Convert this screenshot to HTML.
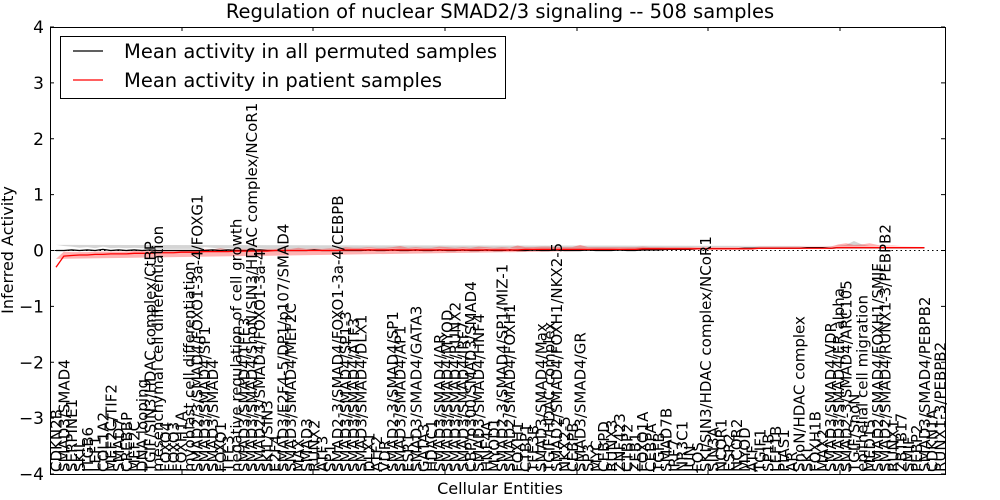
<!DOCTYPE html>
<html><head><meta charset="utf-8">
<style>
html,body{margin:0;padding:0;background:#fff;}
svg{display:block;font-family:"DejaVu Sans","Liberation Sans",sans-serif;}
</style></head>
<body>
<svg id="chart" width="1000" height="500" viewBox="0 0 1000 500">
<rect x="0" y="0" width="1000" height="500" fill="#fff"/>
<text x="500" y="18" text-anchor="middle" font-size="19.5">Regulation of nuclear SMAD2/3 signaling -- 508 samples</text>
<g id="plot"></g>
<text x="500" y="494" text-anchor="middle" font-size="16">Cellular Entities</text>
<text transform="translate(13,250) rotate(-90)" text-anchor="middle" font-size="16">Inferred Activity</text>
<g>
<rect x="60.5" y="36.5" width="445" height="62" fill="#fff" stroke="#000" stroke-width="1"/>
<line x1="73" y1="51" x2="103" y2="51" stroke="#000" stroke-width="1.2"/>
<text x="124" y="58" font-size="19.5">Mean activity in all permuted samples</text>
<line x1="73" y1="80" x2="103" y2="80" stroke="#f00" stroke-width="1.2"/>
<text x="124" y="87" font-size="19.5">Mean activity in patient samples</text>
</g>
</svg>
<script>
const categories = ["CDKN2B","SMAD3/SMAD4","SERPINE1","SKIL","ITGB6","LEF1","COL1A2","MEF2C/TIF2","SMAD7","CREBBP","MEF2C","DNA looping","TGIF/SIN3/HDAC complex/CtBP","mesenchymal cell differentiation","FOXO4","FOXO3","FOXH1A","myoblast cell differentiation","SMAD2/3/SMAD4/FOXO1-3a-4/FOXG1","SMAD3/SMAD4/SP1","SMAD3/SMAD4","FOXO1","TFE3","negative regulation of cell growth","SMAD3/SMAD4/TFE3","SMAD3/SMAD4/SnoN/SIN3/HDAC complex/NCoR1","SMAD2/3/SMAD4/FOXO1-3a-4","SKIL/SIN3","E2F4","SMAD3/E2F4-5/DP1/p107/SMAD4","SMAD3/SMAD4/MEF2C","MAX","SMAD3","RUNX2","ATF3","SP1","SMAD2-3/SMAD4/FOXO1-3a-4/CEBPB","SMAD3/SMAD4/SP1-3","SMAD3/SMAD4/ATF3","SMAD3/SMAD4/DLX1","DLX1","ATF2","VDR","SMAD2-3/SMAD4/SP1","SMAD3/SMAD4/AP1","ESR1","SMAD3/SMAD4/GATA3","GATA3","HDAC1","SMAD3/SMAD4/AR","SMAD3/SMAD4/MYOD","SMAD3/SMAD4/RUNX2","SMAD3/SMAD4/IRF7","CBP/p300/SMAD3/SMAD4","SMAD3/SMAD4/HNF4","HNF4A","MYOD1","SMAD2-3/SMAD4/SP1/MIZ-1","SMAD2/SMAD4/FOXH1","FOXH1","CTBP1","TFE3B","SMAD3/SMAD4/Max","TGIF/HDAC complex","SMAD2/SMAD4/FOXH1/NKX2-5","NKX2-5","CEBPB","SMAD3/SMAD4/GR","SP3","MYC","CEBPD","RUNX3","ZNF423","CTBP2","ZEB1","FOXO1A","CEBPA","TGFB","SMAD7B","IRF7","NR3C1","JUN","FOS","SKI/SIN3/HDAC complex/NCoR1","SIN3A","NCOR1","ESR2","NCOR2","MYOD","ATF","TGIF1","SP1B","LEF1B","PIAS1","AR","SnoN/HDAC complex","SKI","FOXH1B","MAX2","SMAD3/SMAD4/VDR","SMAD3/SMAD4/ER alpha","SMAD2-3/SMAD4/ARC105","TGIF/SnoN","epithelial cell migration","MED15","SMAD2/SMAD4/FOXH1/SMIF","SMAD2/SMAD4/RUNX1-3/PEBPB2","RUNX1","ZBTB17","SMIF","PEBP2","SMAD3/SMAD4/PEBPB2","CDKN1A","RUNX1-3/PEBPB2"];
const permutedMean = [0,0,0.01,0,0.01,0,0.02,0,0.01,0,0.01,0,0.01,0,0,0,0,0,0,0,0.01,0,0.01,0,0,0,0.01,0,0,0,0,0,0,0.01,0,0,0,0,0,0,0.01,0,0,0.01,0,0,0.01,0,0,0.01,0,0,0.01,0,0,0.01,0,0,0.01,0,0,0.01,0,0,0.01,0,0,0,0.01,0,0,0,0.01,0,0,0.01,0.01,0.01,0.02,0.02,0.02,0.02,0.03,0.03,0.03,0.03,0.03,0.03,0.04,0.04,0.04,0.04,0.04,0.04,0.04,0.04,0.05,0.05,0.05,0.04,0.05,0.05,0.05,0.05,0.05,0.05,0.05,0.05,0.05,0.05,0.05,0.05];
const permutedSpread = [0.1,0.08,0.06,0.05,0.05,0.04,0.05,0.04,0.04,0.04,0.04,0.04,0.04,0.03,0.03,0.03,0.03,0.03,0.03,0.06,0.04,0.03,0.03,0.03,0.03,0.03,0.03,0.03,0.03,0.03,0.03,0.03,0.03,0.03,0.03,0.03,0.03,0.03,0.03,0.03,0.04,0.03,0.03,0.03,0.03,0.03,0.03,0.03,0.03,0.03,0.03,0.03,0.03,0.03,0.03,0.03,0.03,0.03,0.03,0.03,0.03,0.03,0.03,0.03,0.03,0.03,0.03,0.03,0.03,0.03,0.03,0.03,0.03,0.03,0.03,0.03,0.03,0.03,0.03,0.03,0.03,0.03,0.03,0.03,0.03,0.03,0.03,0.03,0.03,0.03,0.03,0.03,0.03,0.03,0.03,0.03,0.03,0.03,0.03,0.03,0.04,0.05,0.12,0.06,0.03,0.03,0.03,0.03,0.03,0.03,0.03,0.03];
const patientMean = [-0.3,-0.1,-0.09,-0.08,-0.08,-0.07,-0.07,-0.06,-0.06,-0.06,-0.05,-0.05,-0.05,-0.04,-0.04,-0.04,-0.03,-0.03,-0.03,-0.02,-0.02,-0.02,-0.02,-0.01,-0.01,-0.01,-0.01,-0.01,0,0,0,0,0,0,0,0,0,0.01,0.01,0.01,0.01,0.01,0.01,0.01,0.01,0.01,0.01,0.01,0.01,0.01,0.01,0.01,0.01,0.01,0.01,0.01,0.01,0.01,0.01,0.01,0.02,0.02,0.02,0.02,0.02,0.02,0.02,0.02,0.02,0.02,0.02,0.02,0.02,0.02,0.02,0.03,0.03,0.03,0.03,0.03,0.03,0.03,0.03,0.03,0.03,0.03,0.03,0.03,0.03,0.03,0.04,0.04,0.04,0.04,0.04,0.04,0.04,0.04,0.04,0.04,0.05,0.05,0.05,0.05,0.05,0.05,0.05,0.05,0.05,0.05,0.05,0.05];
const patientSpread = [0.15,0.08,0.06,0.05,0.05,0.05,0.05,0.04,0.04,0.04,0.04,0.04,0.04,0.04,0.04,0.04,0.03,0.03,0.03,0.05,0.04,0.06,0.04,0.04,0.04,0.04,0.04,0.04,0.03,0.04,0.03,0.05,0.03,0.04,0.03,0.04,0.03,0.05,0.04,0.04,0.05,0.04,0.04,0.05,0.07,0.04,0.05,0.04,0.04,0.06,0.05,0.04,0.05,0.04,0.06,0.05,0.04,0.05,0.04,0.08,0.04,0.04,0.05,0.05,0.04,0.04,0.04,0.08,0.04,0.04,0.04,0.04,0.04,0.04,0.04,0.04,0.03,0.03,0.03,0.03,0.03,0.03,0.03,0.03,0.03,0.03,0.03,0.03,0.03,0.03,0.03,0.03,0.03,0.03,0.03,0.03,0.03,0.03,0.03,0.03,0.06,0.08,0.05,0.06,0.08,0.05,0.04,0.04,0.03,0.03,0.03,0.03];
const yTicks = [4,3,2,1,0,-1,-2,-3,-4];

const NS="http://www.w3.org/2000/svg";
const L=50,R=945,T=27,B=474;
const n=categories.length;
const xs=i=>L+6+(i)*(R-L-11)/(n-1);
const ys=v=>T+(4-v)*(B-T)/8;
const plot=document.getElementById('plot');
function mk(tag,attrs,parent){const e=document.createElementNS(NS,tag);for(const k in attrs)e.setAttribute(k,attrs[k]);(parent||plot).appendChild(e);return e;}
function band(mean,spr,fill,op,name){
  let d='';for(let i=0;i<n;i++)d+=(i?'L':'M')+xs(i)+','+ys(mean[i]+spr[i]);
  for(let i=n-1;i>=0;i--)d+='L'+xs(i)+','+ys(mean[i]-spr[i]);
  const p=mk('path',{d:d+'Z',fill:fill,'fill-opacity':op,stroke:'none'});
  
  
}
function line(mean,col,name){
  let d='';for(let i=0;i<n;i++)d+=(i?'L':'M')+xs(i)+','+ys(mean[i]);
  const p=mk('path',{d:d,fill:'none',stroke:col,'stroke-width':1.3});
  
  
}
band(permutedMean,permutedSpread,'#888',0.35,'permuted-band');
band(patientMean,patientSpread,'#f00',0.3,'patient-band');
const zl=mk('line',{x1:L,x2:R,y1:ys(0),y2:ys(0),stroke:'#000','stroke-dasharray':'1.5,3','stroke-width':1});


line(permutedMean,'#000','permuted-mean-line');
line(patientMean,'#f00','patient-mean-line');
for(let i=0;i<n;i++){
  const t=mk('text',{transform:'translate('+(xs(i)+5.5)+','+(B-2)+') rotate(-90)','font-size':15});
  t.textContent=categories[i];
  
  
}
const fr=mk('rect',{x:L+0.5,y:T+0.5,width:R-L,height:B-T,fill:'none',stroke:'#000','stroke-width':1});


[182,313,445,577,708,840].forEach(x=>{
  mk('line',{x1:x,x2:x,y1:T,y2:T+4,stroke:'#000'});
  mk('line',{x1:x,x2:x,y1:B,y2:B-4,stroke:'#000'});
});
yTicks.forEach(v=>{
  const y=ys(v);
  mk('line',{x1:L,x2:L+4,y1:y,y2:y,stroke:'#000'});
  mk('line',{x1:R,x2:R-4,y1:y,y2:y,stroke:'#000'});
  const t=mk('text',{x:L-6,y:y+6,'text-anchor':'end','font-size':17});
  t.textContent=(v<0?'\u2212':'')+Math.abs(v);
  
  
});
</script>
</body></html>
